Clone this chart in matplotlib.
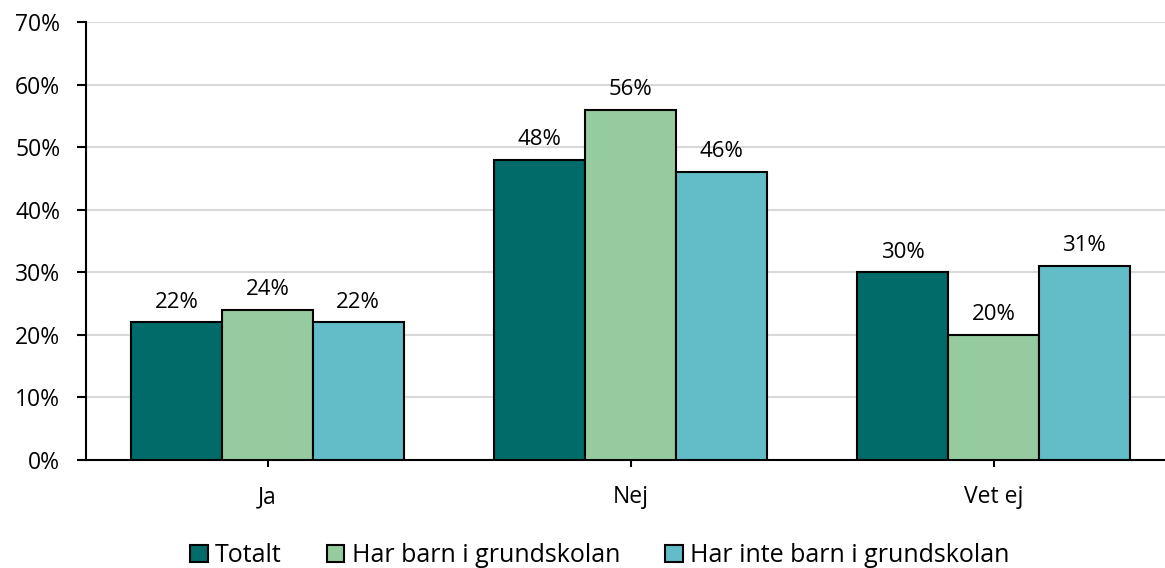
import matplotlib.pyplot as plt
import numpy as np

plt.rcParams['font.family'] = ['Open Sans', 'DejaVu Sans']

categories = ['Ja', 'Nej', 'Vet ej']
series_names = ['Totalt', 'Har barn i grundskolan', 'Har inte barn i grundskolan']
totalt = [22, 48, 30]
har_barn = [24, 56, 20]
har_inte_barn = [22, 46, 31]
colors = ['#006B68', '#95CB9F', '#62BDC9']

fig = plt.figure(figsize=(11.65, 5.68), dpi=100)
ax = fig.add_axes([86 / 1165, 1 - 460 / 568, 1089 / 1165, 438 / 568])

x = np.arange(len(categories))
width = 0.25
for i, (vals, name, col) in enumerate(zip([totalt, har_barn, har_inte_barn], series_names, colors)):
    bars = ax.bar(x + (i - 1) * width, vals, width, color=col, edgecolor='black', lw=1.5,
                  label=name, zorder=3)
    for b, v in zip(bars, vals):
        ax.annotate(f'{v}%', (b.get_x() + b.get_width() / 2, v), xytext=(0, 7),
                    textcoords='offset points', ha='center', va='bottom', fontsize=16)

ax.set_xlim(-0.5, 2.5)
ax.set_ylim(0, 70)
ax.set_yticks(range(0, 71, 10))
ax.set_yticklabels([f'{t}%' for t in range(0, 71, 10)], fontsize=16.5)
ax.set_xticks(x)
ax.set_xticklabels(categories, fontsize=16.5)
ax.yaxis.grid(True, color='#D9D9D9', lw=1.5, zorder=0)
for s in ['top', 'right']:
    ax.spines[s].set_visible(False)
ax.spines['left'].set_linewidth(1.5)
ax.spines['bottom'].set_linewidth(1.5)
ax.tick_params(axis='y', length=6.5, width=1.5, pad=12)
ax.tick_params(axis='x', length=5, width=1.5, pad=13)

fig.legend(loc='lower center', bbox_to_anchor=(0.515, -0.04), ncol=3, frameon=False, fontsize=18,
           handlelength=0.7, handleheight=0.7, handletextpad=0.3, columnspacing=1.8)

fig.savefig('out.png', dpi=100)
